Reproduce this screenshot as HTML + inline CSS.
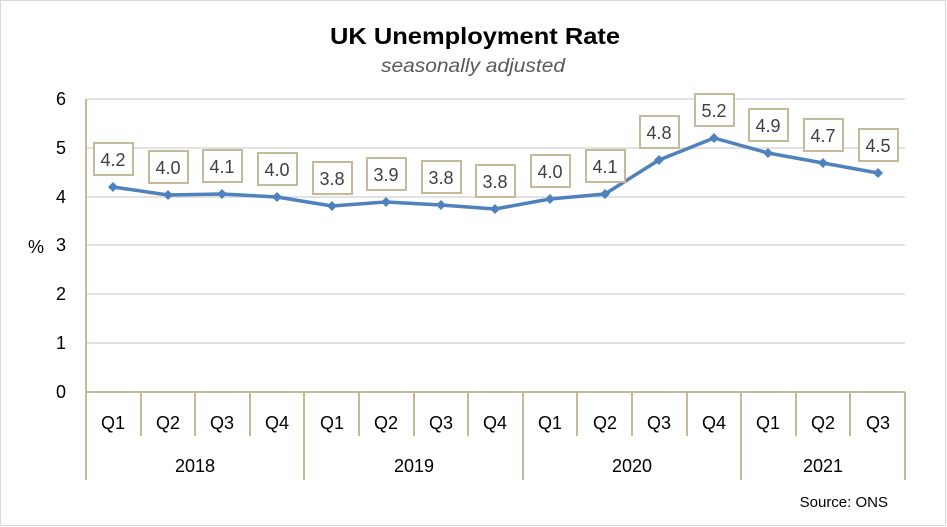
<!DOCTYPE html><html><head><style>body{margin:0;background:#fff}svg{display:block}</style></head><body>
<svg width="947" height="527" xmlns="http://www.w3.org/2000/svg" font-family="'Liberation Sans',Calibri,sans-serif">
<rect x="0.5" y="0.5" width="945" height="525" fill="#fff" stroke="#d9d9d9"/>
<text x="330" y="44" textLength="290" lengthAdjust="spacingAndGlyphs" font-size="23" font-weight="bold" fill="#000">UK Unemployment Rate</text>
<text x="381" y="72" textLength="184" lengthAdjust="spacingAndGlyphs" font-size="19" font-style="italic" fill="#595959">seasonally adjusted</text>
<g stroke="#d9d9d9" stroke-width="1.5">
<line x1="86" x2="905" y1="99" y2="99"/><line x1="86" x2="905" y1="148" y2="148"/><line x1="86" x2="905" y1="197" y2="197"/><line x1="86" x2="905" y1="245" y2="245"/><line x1="86" x2="905" y1="294" y2="294"/><line x1="86" x2="905" y1="343" y2="343"/>
</g>
<g font-size="18" fill="#000" text-anchor="end">
<text x="66" y="105">6</text><text x="66" y="154">5</text><text x="66" y="203">4</text><text x="66" y="251">3</text><text x="66" y="300">2</text><text x="66" y="349">1</text><text x="66" y="398">0</text>
</g>
<text x="36" y="253" font-size="18" text-anchor="middle">%</text>
<g stroke="#c4b998" stroke-width="2" fill="none">
<line x1="86" y1="99" x2="86" y2="480"/><line x1="86" y1="392" x2="905" y2="392"/>
<line x1="141" y1="392" x2="141" y2="436"/><line x1="195" y1="392" x2="195" y2="436"/><line x1="250" y1="392" x2="250" y2="436"/>
<line x1="304" y1="392" x2="304" y2="480"/>
<line x1="359" y1="392" x2="359" y2="436"/><line x1="414" y1="392" x2="414" y2="436"/><line x1="468" y1="392" x2="468" y2="436"/>
<line x1="523" y1="392" x2="523" y2="480"/>
<line x1="577" y1="392" x2="577" y2="436"/><line x1="632" y1="392" x2="632" y2="436"/><line x1="687" y1="392" x2="687" y2="436"/>
<line x1="741" y1="392" x2="741" y2="480"/>
<line x1="796" y1="392" x2="796" y2="436"/><line x1="850" y1="392" x2="850" y2="436"/>
<line x1="905" y1="392" x2="905" y2="480"/>
</g>
<g font-size="18" text-anchor="middle" fill="#000">
<text x="113" y="429">Q1</text><text x="168" y="429">Q2</text><text x="222" y="429">Q3</text><text x="277" y="429">Q4</text>
<text x="332" y="429">Q1</text><text x="386" y="429">Q2</text><text x="441" y="429">Q3</text><text x="495" y="429">Q4</text>
<text x="550" y="429">Q1</text><text x="605" y="429">Q2</text><text x="659" y="429">Q3</text><text x="714" y="429">Q4</text>
<text x="768" y="429">Q1</text><text x="823" y="429">Q2</text><text x="878" y="429">Q3</text>
<text x="195" y="472">2018</text><text x="414" y="472">2019</text><text x="632" y="472">2020</text><text x="823" y="472">2021</text>
</g>
<text x="888" y="507" font-size="15" text-anchor="end">Source: ONS</text>
<polyline fill="none" stroke="#4f81bd" stroke-width="3.5" stroke-linejoin="round" points="113,187 168,195 222,194 277,197 332,206 386,202 441,205 495,209 550,199 605,194 659,160 714,138 768,153 823,163 878,173"/>
<g fill="#4f81bd">
<path d="M113,182l5,5l-5,5l-5,-5z"/><path d="M168,190l5,5l-5,5l-5,-5z"/><path d="M222,189l5,5l-5,5l-5,-5z"/><path d="M277,192l5,5l-5,5l-5,-5z"/><path d="M332,201l5,5l-5,5l-5,-5z"/><path d="M386,197l5,5l-5,5l-5,-5z"/><path d="M441,200l5,5l-5,5l-5,-5z"/><path d="M495,204l5,5l-5,5l-5,-5z"/><path d="M550,194l5,5l-5,5l-5,-5z"/><path d="M605,189l5,5l-5,5l-5,-5z"/><path d="M659,155l5,5l-5,5l-5,-5z"/><path d="M714,133l5,5l-5,5l-5,-5z"/><path d="M768,148l5,5l-5,5l-5,-5z"/><path d="M823,158l5,5l-5,5l-5,-5z"/><path d="M878,168l5,5l-5,5l-5,-5z"/>
</g>
<g stroke="#c4b998" stroke-width="2" fill="#fff">
<rect x="94" y="143" width="39" height="32"/><rect x="149" y="151" width="39" height="32"/><rect x="203" y="150" width="39" height="32"/><rect x="258" y="153" width="39" height="32"/><rect x="313" y="162" width="39" height="32"/><rect x="367" y="158" width="39" height="32"/><rect x="422" y="161" width="39" height="32"/><rect x="476" y="165" width="39" height="32"/><rect x="531" y="155" width="39" height="32"/><rect x="586" y="150" width="39" height="32"/><rect x="640" y="116" width="39" height="32"/><rect x="695" y="94" width="39" height="32"/><rect x="749" y="109" width="39" height="32"/><rect x="804" y="119" width="39" height="32"/><rect x="859" y="129" width="39" height="32"/>
</g>
<g font-size="18" text-anchor="middle" fill="#404040">
<text x="113" y="166">4.2</text><text x="168" y="174">4.0</text><text x="222" y="173">4.1</text><text x="277" y="176">4.0</text><text x="332" y="185">3.8</text><text x="386" y="181">3.9</text><text x="441" y="184">3.8</text><text x="495" y="188">3.8</text><text x="550" y="178">4.0</text><text x="605" y="173">4.1</text><text x="659" y="139">4.8</text><text x="714" y="117">5.2</text><text x="768" y="132">4.9</text><text x="823" y="142">4.7</text><text x="878" y="152">4.5</text>
</g>
</svg></body></html>
